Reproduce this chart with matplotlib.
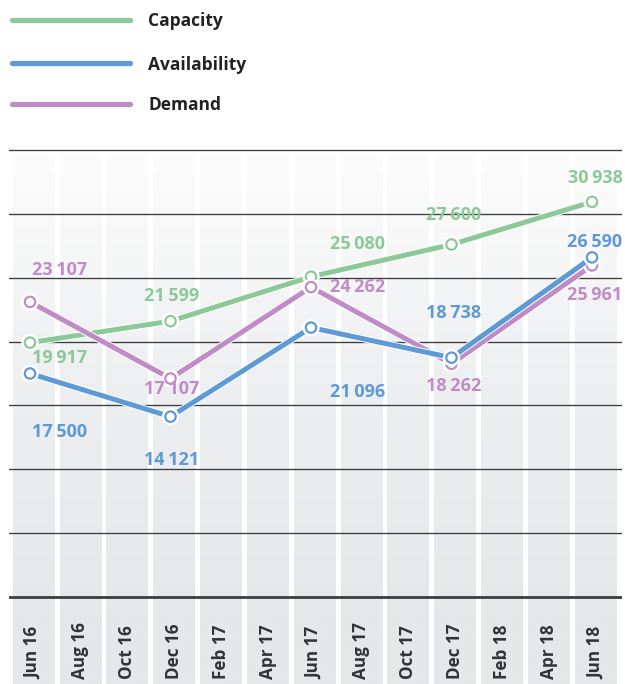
import matplotlib
matplotlib.use("Agg")
import matplotlib.pyplot as plt
import matplotlib.patheffects as pe
import numpy as np
from matplotlib.colors import LinearSegmentedColormap
from matplotlib.lines import Line2D

plt.rcParams['font.family'] = ['Open Sans', 'DejaVu Sans']

# data
tick_labels = ["Jun 16", "Aug 16", "Oct 16", "Dec 16", "Feb 17", "Apr 17", "Jun 17",
               "Aug 17", "Oct 17", "Dec 17", "Feb 18", "Apr 18", "Jun 18"]
months = [0, 6, 12, 18, 24]  # months after Jun 16
capacity = [19917, 21599, 25080, 27600, 30938]
availability = [17500, 14121, 21096, 18738, 26590]
demand = [23107, 17107, 24262, 18262, 25961]

# label offsets in pixels (dx, dy)
cap_off = [(29.5, -15), (1, 25), (46.5, 33), (2, 29.5), (3, 24)]
ava_off = [(29.5, -58.5), (1, -43), (46.5, -64), (2, 45), (3, 15)]
dem_off = [(29.5, 32), (1, -10.5), (46.5, 0), (2, -22), (3, -29.5)]

GREEN = "#8dc898"
BLUE = "#5e9ad6"
PURPLE = "#c08cc6"

W, H = 625, 684
fig = plt.figure(figsize=(W / 100, H / 100), dpi=100)
ax = fig.add_axes([9 / W, 0, (622 - 9) / W, (684 - 140) / H])
px_per_unit = 447 / 35000
ymax = 35000 + 10 / px_per_unit
ymin = -87 / px_per_unit
ax.set_ylim(ymin, ymax)
ax.set_xlim(-0.897, 25.28)
ax.axis('off')

# gradient column bands
cmap = LinearSegmentedColormap.from_list("bg", ["#e6e7e9", "#eeeff1", "#fcfcfc"])
grad = np.linspace(0, 1, 256).reshape(-1, 1)
grad_full = np.concatenate([np.zeros((40, 1)), grad])
for i in range(len(tick_labels)):
    c = 2 * i + 0.15
    ax.imshow(grad_full, cmap=cmap, origin='lower', aspect='auto',
              extent=[c - 0.89, c + 0.89, ymin, 34600], zorder=0, vmin=0, vmax=1)
    ax.text(c, 6 / H, tick_labels[i], transform=ax.get_xaxis_transform(),
            rotation=90, ha='center', va='bottom', fontsize=12.3,
            fontweight='bold', color='#333333')
ax.set_xlim(-0.897, 25.28)
ax.set_ylim(ymin, ymax)

# horizontal grid lines
for yv in range(0, 35001, 5000):
    ax.axhline(yv, color='#3c3c3c', lw=2.0 if yv == 0 else 0.95, zorder=1)

series = [(capacity, GREEN, cap_off, 3), (demand, PURPLE, dem_off, 4),
          (availability, BLUE, ava_off, 5)]
for vals, col, offs, z in series:
    ax.plot(months, vals, color=col, lw=3.6, marker='o', markersize=7.5,
            markerfacecolor='white', markeredgecolor=col, markeredgewidth=1.6,
            zorder=z, solid_joinstyle='round',
            path_effects=[pe.Stroke(linewidth=5.0, foreground='white'), pe.Normal()])
    for m, v, (dx, dy) in zip(months, vals, offs):
        ax.annotate(f"{v:,}".replace(",", "\u2009"), (m, v), xytext=(dx, dy),
                    textcoords='offset pixels', ha='center', va='center',
                    fontsize=13, fontweight='bold', color=col, zorder=6)

# legend
leg = [("Capacity", GREEN, 20), ("Availability", BLUE, 63), ("Demand", PURPLE, 104)]
for name, col, ypx in leg:
    yf = 1 - ypx / H
    fig.add_artist(Line2D([12 / W, 130 / W], [yf, yf], transform=fig.transFigure,
                          color=col, lw=3.8, solid_capstyle='round'))
    fig.text(148 / W, 1 - (ypx + 1.5) / H, name, ha='left', va='center',
             fontsize=12.5, fontweight='bold', color='#222222')

fig.savefig("out.png", dpi=100)
